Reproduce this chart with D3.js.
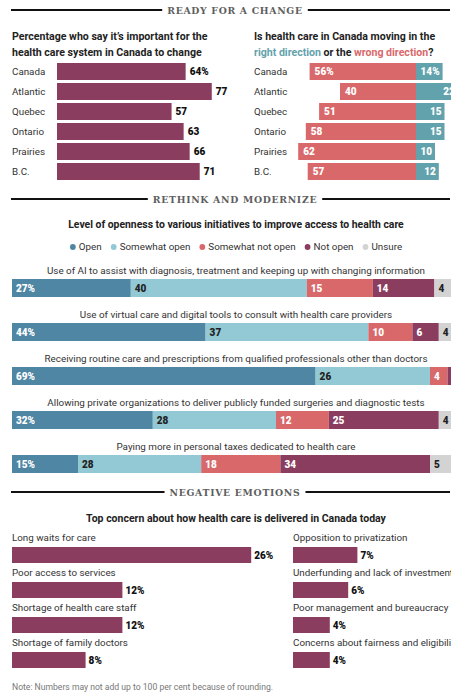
<!DOCTYPE html>
<html>
<head>
<meta charset="utf-8">
<script src="https://cdn.jsdelivr.net/npm/d3@7"></script>
<style>
  body { margin: 0; background: #fff; }
  svg { display: block; font-family: Roboto, "Liberation Sans", sans-serif; }
  .hdr { font-family: "DejaVu Serif", serif; font-weight: bold; fill: #5e5e5e; letter-spacing: 0.7px; }
  .ttl { font-weight: bold; fill: #222; }
  .lbl { fill: #333; }
  .val { font-weight: 900; }
</style>
</head>
<body>
<svg width="451" height="692"></svg>
<script>
// data
const regions = ["Canada", "Atlantic", "Quebec", "Ontario", "Prairies", "B.C."];
const importantPct = [64, 77, 57, 63, 66, 71];
const wrongDir = [56, 40, 51, 58, 62, 57];
const rightDir = [14, 22, 15, 15, 10, 12];

const initiatives = [
  "Use of AI to assist with diagnosis, treatment and keeping up with changing information",
  "Use of virtual care and digital tools to consult with health care providers",
  "Receiving routine care and prescriptions from qualified professionals other than doctors",
  "Allowing private organizations to deliver publicly funded surgeries and diagnostic tests",
  "Paying more in personal taxes dedicated to health care"
];
const levels = ["Open", "Somewhat open", "Somewhat not open", "Not open", "Unsure"];
const openV = [27, 44, 69, 32, 15];
const somewhatOpenV = [40, 37, 26, 28, 28];
const somewhatNotV = [15, 10, 4, 12, 18];
const notOpenV = [14, 6, 1, 25, 34];
const unsureV = [4, 4, 1, 4, 5];

const concerns = ["Long waits for care", "Poor access to services", "Shortage of health care staff",
  "Shortage of family doctors", "Opposition to privatization", "Underfunding and lack of investment",
  "Poor management and bureaucracy", "Concerns about fairness and eligibility"];
const concernPct = [26, 12, 12, 8, 7, 6, 4, 4];

const purple = "#8b3d5f", red = "#d9686b", teal = "#62a2ac";
const levelColors = ["#4f86a3", "#92c9d4", "#d9686b", "#8b3d5f", "#d3d3d3"];
const levelText = ["#fff", "#222", "#fff", "#fff", "#222"];

const svg = d3.select("svg");

function header(txt, y) {
  const t = svg.append("text").attr("class", "hdr").attr("x", 235).attr("y", y + 3.6)
    .attr("text-anchor", "middle").attr("font-size", 9.3).text(txt);
  const w = t.node().getComputedTextLength();
  svg.append("line").attr("x1", 11).attr("x2", 235 - w / 2 - 5).attr("y1", y).attr("y2", y)
    .attr("stroke", "#111").attr("stroke-width", 2);
  svg.append("line").attr("x1", 235 + w / 2 + 5).attr("x2", 450).attr("y1", y).attr("y2", y)
    .attr("stroke", "#111").attr("stroke-width", 2);
}

// ---------- READY FOR A CHANGE
header("READY FOR A CHANGE", 10);

svg.append("text").attr("class", "ttl").attr("x", 12).attr("y", 40).attr("font-size", 10.6)
  .text("Percentage who say it\u2019s important for the");
svg.append("text").attr("class", "ttl").attr("x", 12).attr("y", 56).attr("font-size", 10.6)
  .text("health care system in Canada to change");

const yReg = d3.scaleBand().domain(regions).range([63, 180]).paddingInner(0.15);
const xImp = d3.scaleLinear().domain([0, 100]).range([57, 258]);

const gL = svg.append("g");
regions.forEach((r, i) => {
  const y = yReg(r), h = yReg.bandwidth();
  gL.append("text").attr("class", "lbl").attr("x", 12).attr("y", y + h / 2 + 3.4)
    .attr("font-size", 9.8).text(r);
  gL.append("rect").attr("x", xImp(0)).attr("y", y).attr("width", xImp(importantPct[i]) - xImp(0))
    .attr("height", h).attr("fill", purple);
  gL.append("text").attr("class", "val").attr("x", xImp(importantPct[i]) + 4).attr("y", y + h / 2 + 3.6)
    .attr("font-size", 10).attr("fill", "#111").text(importantPct[i] + (i === 0 ? "%" : ""));
});

svg.append("text").attr("class", "ttl").attr("x", 254).attr("y", 40).attr("font-size", 10.6)
  .text("Is health care in Canada moving in the");
const t3 = svg.append("text").attr("class", "ttl").attr("x", 254).attr("y", 56).attr("font-size", 10.6);
t3.append("tspan").attr("fill", teal).text("right direction");
t3.append("tspan").text(" or the ");
t3.append("tspan").attr("fill", red).text("wrong direction");
t3.append("tspan").text("?");

const center = 416;
const xDir = d3.scaleLinear().domain([0, 100]).range([0, 190]);
const gR = svg.append("g");
regions.forEach((r, i) => {
  const y = yReg(r), h = yReg.bandwidth();
  gR.append("text").attr("class", "lbl").attr("x", 254).attr("y", y + h / 2 + 3.4)
    .attr("font-size", 9.8).text(r);
  gR.append("rect").attr("x", center - xDir(wrongDir[i])).attr("y", y)
    .attr("width", xDir(wrongDir[i])).attr("height", h).attr("fill", red);
  gR.append("rect").attr("x", center).attr("y", y)
    .attr("width", xDir(rightDir[i])).attr("height", h).attr("fill", teal);
  gR.append("text").attr("class", "val").attr("x", center - xDir(wrongDir[i]) + 5).attr("y", y + h / 2 + 3.6)
    .attr("font-size", 10).attr("fill", "#fff").text(wrongDir[i] + (i === 0 ? "%" : ""));
  gR.append("text").attr("class", "val").attr("x", center + xDir(rightDir[i]) - 3).attr("y", y + h / 2 + 3.6)
    .attr("text-anchor", "end").attr("font-size", 10).attr("fill", "#fff")
    .text(rightDir[i] + (i === 0 ? "%" : ""));
});

// ---------- RETHINK AND MODERNIZE
header("RETHINK AND MODERNIZE", 199);

svg.append("text").attr("class", "ttl").attr("x", 236).attr("y", 228).attr("text-anchor", "middle")
  .attr("font-size", 10.4).text("Level of openness to various initiatives to improve access to health care");

// legend
const leg = svg.append("g");
let lx = 0;
levels.forEach((l, i) => {
  const g = leg.append("g").attr("transform", `translate(${lx},0)`);
  g.append("circle").attr("cx", 3).attr("cy", 0).attr("r", 2.9).attr("fill", levelColors[i]);
  const t = g.append("text").attr("x", 9).attr("y", 3.4).attr("font-size", 9.8).attr("fill", "#333").text(l);
  lx += 9 + t.node().getComputedTextLength() + 9;
});
leg.attr("transform", `translate(${236 - (lx - 9) / 2},247)`);

const rows = initiatives.map((d, i) => ({
  name: d, "Open": openV[i], "Somewhat open": somewhatOpenV[i],
  "Somewhat not open": somewhatNotV[i], "Not open": notOpenV[i], "Unsure": unsureV[i]
}));
const series = d3.stack().keys(levels)(rows);
const xSt = d3.scaleLinear().domain([0, 100]).range([12, 452]);
const ySt = d3.scalePoint().domain(initiatives).range([279, 455]);
const hSt = 18;

initiatives.forEach(d => {
  svg.append("text").attr("class", "lbl").attr("x", 236).attr("y", ySt(d) - 5)
    .attr("text-anchor", "middle").attr("font-size", 9.85).text(d);
});
series.forEach((s, k) => {
  const g = svg.append("g");
  g.selectAll("rect").data(s).join("rect")
    .attr("x", d => xSt(d[0])).attr("y", d => ySt(d.data.name))
    .attr("width", d => xSt(d[1]) - xSt(d[0])).attr("height", hSt)
    .attr("fill", levelColors[k]);
  g.selectAll("text").data(s.filter(d => d[1] - d[0] >= 2)).join("text")
    .attr("class", "val").attr("x", d => xSt(d[0]) + 4).attr("y", d => ySt(d.data.name) + hSt / 2 + 3.6)
    .attr("font-size", 10).attr("fill", levelText[k])
    .text(d => (d[1] - d[0]) + (k === 0 ? "%" : ""));
});

// ---------- NEGATIVE EMOTIONS
header("NEGATIVE EMOTIONS", 492);

svg.append("text").attr("class", "ttl").attr("x", 236).attr("y", 522).attr("text-anchor", "middle")
  .attr("font-size", 10.5).text("Top concern about how health care is delivered in Canada today");

const xC = d3.scaleLinear().domain([0, 100]).range([0, 920]);
const gC = svg.append("g");
concerns.forEach((c, i) => {
  const col = Math.floor(i / 4), row = i % 4;
  const x0 = col === 0 ? 12 : 293;
  const yb = 547 + row * 35;
  gC.append("text").attr("class", "lbl").attr("x", x0).attr("y", yb - 6).attr("font-size", 9.8).text(c);
  gC.append("rect").attr("x", x0).attr("y", yb).attr("width", xC(concernPct[i])).attr("height", 16)
    .attr("fill", purple);
  gC.append("text").attr("class", "val").attr("x", x0 + xC(concernPct[i]) + 3).attr("y", yb + 11.6)
    .attr("font-size", 10).attr("fill", "#111").text(concernPct[i] + "%");
});

svg.append("text").attr("x", 12).attr("y", 690).attr("font-size", 8.6).attr("fill", "#777")
  .text("Note: Numbers may not add up to 100 per cent because of rounding.");
</script>
</body>
</html>
